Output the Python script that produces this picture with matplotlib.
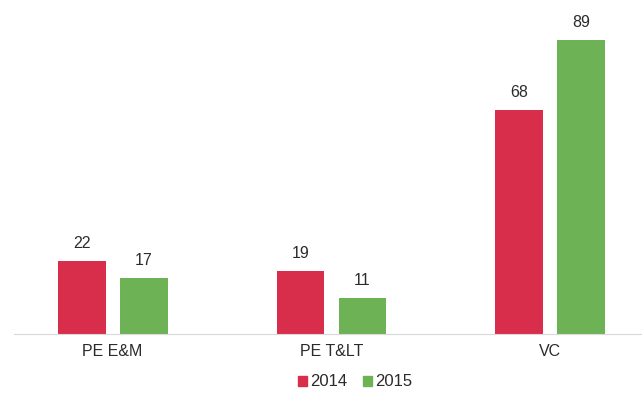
import numpy as np
import matplotlib.pyplot as plt
from matplotlib.patches import Patch

plt.rcParams["font.family"] = ["Liberation Sans", "DejaVu Sans"]

categories = ["PE E&M", "PE T&LT", "VC"]
years = ["2014", "2015"]
values_2014 = [22, 19, 68]
values_2015 = [17, 11, 89]

red = "#d92d4c"
green = "#6db356"
text_color = "#2b2b2b"

fig = plt.figure(figsize=(6.42, 4.0), dpi=100)
ax = fig.add_axes([14 / 642, 66 / 400, 635 / 642, 334 / 400])

x = np.arange(len(categories))
w = 0.219
off = 0.1416
b1 = ax.bar(x - off, values_2014, w, color=red)
b2 = ax.bar(x + off, values_2015, w, color=green)

for bars, vals in ((b1, values_2014), (b2, values_2015)):
    for rect, v in zip(bars, vals):
        ax.text(rect.get_x() + rect.get_width() / 2, v + 3.0, str(v),
                ha="center", va="bottom", fontsize=11.5, color=text_color)

ax.set_xlim(-0.45, 2.45)
ax.set_ylim(0, 101.2)
ax.set_xticks(x)
ax.set_xticklabels(categories, fontsize=11.5, color=text_color)
ax.tick_params(axis="x", length=0, pad=7)
ax.set_yticks([])
for side in ("top", "right", "left"):
    ax.spines[side].set_visible(False)
ax.spines["bottom"].set_color("#d9d9d9")
ax.spines["bottom"].set_linewidth(0.8)

handles = [Patch(color=red, label=years[0]), Patch(color=green, label=years[1])]
fig.legend(handles=handles, loc="center", bbox_to_anchor=(355 / 642, 1 - 382 / 400),
           ncol=2, frameon=False, fontsize=12, handlelength=0.55, handleheight=0.55,
           handletextpad=0.2, columnspacing=0.9, labelcolor=text_color)

plt.savefig("out.png", dpi=100)
